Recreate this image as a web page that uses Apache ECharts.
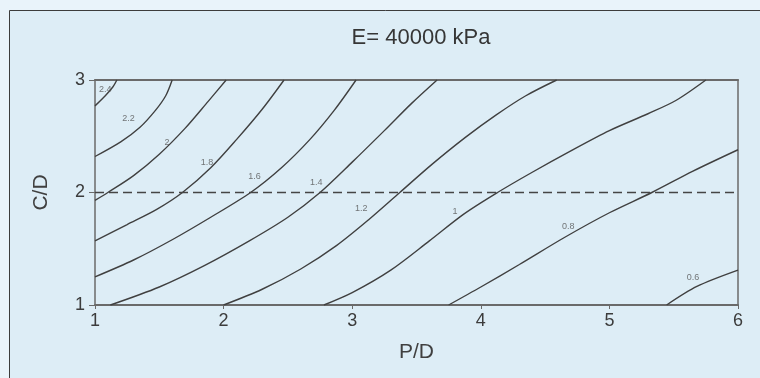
<!DOCTYPE html>
<html>
<head>
<meta charset="utf-8">
<script src="https://cdn.jsdelivr.net/npm/echarts@6/dist/echarts.min.js"></script>
<style>
  html, body { margin: 0; padding: 0; background: #e9f3fa; }
  #chart { width: 760px; height: 378px; }
</style>
</head>
<body>
<div id="chart"></div>
<script>
// contour levels and their curves as [P/D, C/D]
const levels = ['2.4', '2.2', '2', '1.8', '1.6', '1.4', '1.2', '1', '0.8', '0.6'];
const c24 = [[1.0, 2.77], [1.08, 2.86], [1.14, 2.94], [1.17, 3.0]];
const c22 = [[1.0, 2.32], [1.2, 2.45], [1.35, 2.58], [1.47, 2.73], [1.55, 2.86], [1.6, 3.0]];
const c20 = [[1.0, 1.93], [1.1, 2.0], [1.3, 2.15], [1.5, 2.34], [1.7, 2.57], [1.88, 2.81], [2.02, 3.0]];
const c18 = [[1.0, 1.57], [1.25, 1.715], [1.48, 1.85], [1.68, 2.0], [1.9, 2.22], [2.1, 2.47], [2.3, 2.74], [2.47, 3.0]];
const c16 = [[1.0, 1.25], [1.3, 1.40], [1.6, 1.58], [1.9, 1.78], [2.21, 2.0], [2.45, 2.22], [2.67, 2.47], [2.86, 2.73], [3.03, 3.0]];
const c14 = [[1.12, 1.0], [1.5, 1.16], [1.85, 1.35], [2.2, 1.57], [2.5, 1.78], [2.75, 2.0], [3.0, 2.27], [3.25, 2.55], [3.46, 2.79], [3.66, 3.0]];
const c12 = [[2.0, 1.0], [2.3, 1.14], [2.6, 1.32], [2.88, 1.53], [3.13, 1.76], [3.37, 2.0], [3.62, 2.25], [3.88, 2.49], [4.12, 2.69], [4.35, 2.86], [4.59, 3.0]];
const c10 = [[2.78, 1.0], [3.0, 1.11], [3.3, 1.31], [3.6, 1.57], [3.87, 1.81], [4.13, 2.0], [4.4, 2.18], [4.7, 2.37], [5.0, 2.55], [5.3, 2.70], [5.52, 2.82], [5.75, 3.0]];
const c08 = [[3.75, 1.0], [4.0, 1.16], [4.3, 1.36], [4.65, 1.6], [5.0, 1.82], [5.33, 2.0], [5.65, 2.19], [6.0, 2.38]];
const c06 = [[5.445, 1.0], [5.68, 1.165], [6.0, 1.31]];
const curves = [c24, c22, c20, c18, c16, c14, c12, c10, c08, c06];

// where each level number sits on the plot
const labelX = [1.08, 1.26, 1.56, 1.87, 2.24, 2.72, 3.07, 3.80, 4.68, 5.65];
const labelY = [2.915, 2.66, 2.44, 2.27, 2.145, 2.085, 1.86, 1.83, 1.70, 1.24];

const xTicks = [1, 2, 3, 4, 5, 6];
const yTicks = [1, 2, 3];
const dashedLevel = 2;

const chart = echarts.init(document.getElementById('chart'));
const FONT = '"Liberation Sans", Arial, sans-serif';

const series = curves.map((pts, i) => ({
    name: levels[i],
    type: 'line',
    data: pts,
    smooth: 0.3,
    showSymbol: false,
    lineStyle: { color: '#404040', width: 1.4 },
    z: 3
}));

// horizontal dashed reference line
series.push({
    type: 'line',
    data: [],
    markLine: {
        silent: true,
        symbol: ['none', 'none'],
        label: { show: false },
        lineStyle: { color: '#454545', width: 1.3, type: [9, 5] },
        data: [{ yAxis: dashedLevel }]
    }
});

// level numbers
series.push({
    type: 'scatter',
    symbolSize: 0,
    data: labelX.map((x, i) => ({ value: [x, labelY[i]], name: levels[i] })),
    label: {
        show: true,
        position: 'inside',
        formatter: p => p.name,
        fontFamily: FONT,
        fontSize: 9,
        color: '#555'
    },
    z: 4
});

const option = {
    backgroundColor: '#e9f3fa',
    animation: false,
    graphic: [{
        type: 'rect',
        z: -10,
        shape: { x: 9.5, y: 10.5, width: 770, height: 390 },
        style: { fill: '#ddedf6', stroke: '#3c3c3c', lineWidth: 1 }
    }],
    title: {
        text: 'E= 40000 kPa',
        left: 416,
        top: 22,
        textAlign: 'center',
        textStyle: { fontFamily: FONT, fontSize: 22, fontWeight: 'normal', color: '#363636' }
    },
    grid: { left: 95, right: 22, top: 80, bottom: 73, show: false },
    xAxis: [{
        type: 'value',
        min: xTicks[0],
        max: xTicks[xTicks.length - 1],
        interval: 1,
        name: 'P/D',
        nameLocation: 'middle',
        nameGap: 37,
        nameTextStyle: { fontFamily: FONT, fontSize: 21, color: '#404040' },
        axisLine: { show: true, lineStyle: { color: '#6a6a6a', width: 2 } },
        axisTick: { show: true, length: 4, lineStyle: { color: '#6a6a6a' } },
        axisLabel: { fontFamily: FONT, fontSize: 18, color: '#3c3c3c', margin: 7 },
        splitLine: { show: false }
    }, {
        type: 'value',
        position: 'top',
        min: xTicks[0],
        max: xTicks[xTicks.length - 1],
        axisLine: { show: true, lineStyle: { color: '#6a6a6a', width: 2 } },
        axisTick: { show: false },
        axisLabel: { show: false },
        splitLine: { show: false }
    }],
    yAxis: [{
        type: 'value',
        min: yTicks[0],
        max: yTicks[yTicks.length - 1],
        interval: 1,
        name: 'C/D',
        nameLocation: 'middle',
        nameGap: 43,
        nameTextStyle: { fontFamily: FONT, fontSize: 21, color: '#404040' },
        axisLine: { show: true, lineStyle: { color: '#6a6a6a', width: 1.5 } },
        axisTick: { show: true, length: 6, lineStyle: { color: '#6a6a6a' } },
        axisLabel: { fontFamily: FONT, fontSize: 18, color: '#3c3c3c', margin: 10 },
        splitLine: { show: false }
    }, {
        type: 'value',
        position: 'right',
        min: yTicks[0],
        max: yTicks[yTicks.length - 1],
        axisLine: { show: true, lineStyle: { color: '#6a6a6a', width: 1.5 } },
        axisTick: { show: false },
        axisLabel: { show: false },
        splitLine: { show: false }
    }],
    series: series
};

chart.setOption(option);
</script>
</body>
</html>
